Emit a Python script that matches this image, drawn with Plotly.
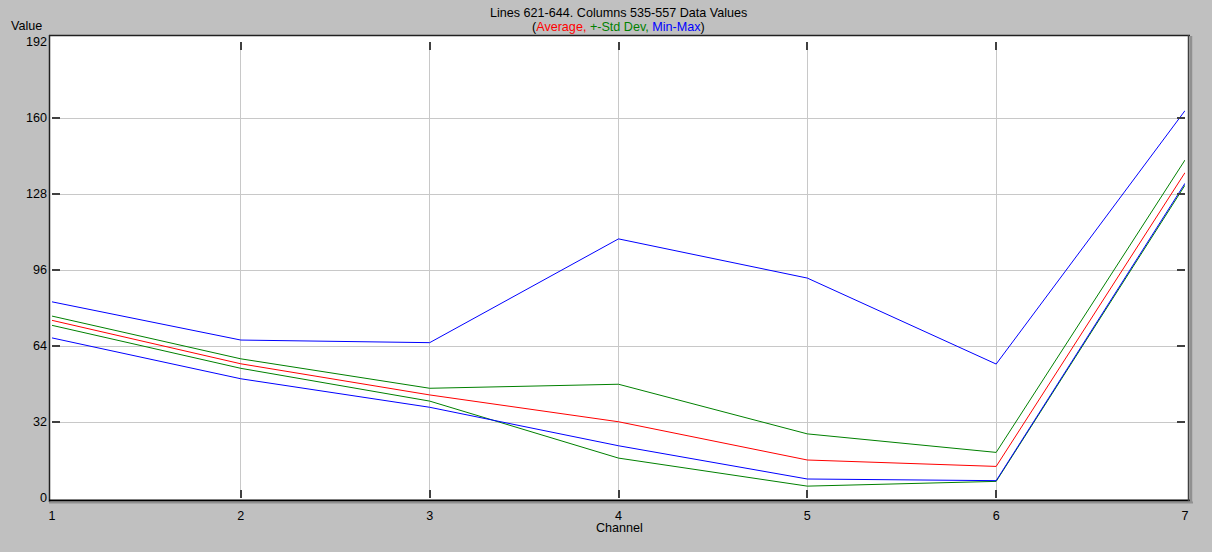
import plotly.graph_objects as go

channels = [1, 2, 3, 4, 5, 6, 7]
average = [74.8, 56.5, 43.4, 32.1, 16.0, 13.3, 137.0]
std_upper = [76.6, 58.6, 46.2, 47.9, 27.0, 19.2, 142.3]
std_lower = [72.7, 54.6, 40.8, 16.8, 5.0, 7.0, 131.7]
val_max = [82.6, 66.5, 65.4, 109.1, 92.6, 56.4, 163.1]
val_min = [67.4, 50.2, 38.2, 22.0, 8.0, 7.3, 132.5]
y_ticks = [0, 32, 64, 96, 128, 160, 192]

W, H = 1212, 552
L, R, T, B = 52, 27, 42, 54
pw, ph = W - L - R, H - T - B
FONT = "Liberation Sans, Arial, sans-serif"

def px(x):
    return (x - L) / pw

def py(y):
    return (H - B - y) / ph

fig = go.Figure()
fig.add_trace(go.Scatter(x=channels, y=average, mode="lines", line=dict(color="#ff0000", width=1), name="Average"))
fig.add_trace(go.Scatter(x=channels, y=std_upper, mode="lines", line=dict(color="#008000", width=1), name="+Std Dev"))
fig.add_trace(go.Scatter(x=channels, y=std_lower, mode="lines", line=dict(color="#008000", width=1), name="-Std Dev"))
fig.add_trace(go.Scatter(x=channels, y=val_max, mode="lines", line=dict(color="#0000ff", width=1), name="Max"))
fig.add_trace(go.Scatter(x=channels, y=val_min, mode="lines", line=dict(color="#0000ff", width=1), name="Min"))

shapes = [
    # white plot frame
    dict(type="rect", xref="paper", yref="paper", x0=px(49), x1=px(1189), y0=py(501), y1=py(35),
         fillcolor="white", line=dict(width=0), layer="below"),
    # top & left dark edges
    dict(type="line", xref="paper", yref="paper", x0=px(49), x1=px(1190), y0=py(35.5), y1=py(35.5),
         line=dict(color="#202020", width=1.5), layer="above"),
    dict(type="line", xref="paper", yref="paper", x0=px(49.5), x1=px(49.5), y0=py(35), y1=py(502),
         line=dict(color="#202020", width=1.5), layer="above"),
    # bottom & right edges
    dict(type="line", xref="paper", yref="paper", x0=px(49), x1=px(1191), y0=py(500.5), y1=py(500.5),
         line=dict(color="#000000", width=2), layer="above"),
    dict(type="line", xref="paper", yref="paper", x0=px(49), x1=px(1193), y0=py(502.5), y1=py(502.5),
         line=dict(color="#909090", width=2), layer="above"),
    dict(type="line", xref="paper", yref="paper", x0=px(1188.5), x1=px(1188.5), y0=py(35), y1=py(501),
         line=dict(color="#404040", width=1.5), layer="above"),
    dict(type="line", xref="paper", yref="paper", x0=px(1191), x1=px(1191), y0=py(36), y1=py(503),
         line=dict(color="#909090", width=2.5), layer="above"),
]

annotations = [
    dict(text="Lines 621-644. Columns 535-557 Data Values", xref="paper", yref="paper",
         x=px(618), y=py(13), showarrow=False, font=dict(size=12.6, color="#000000", family=FONT),
         xanchor="center", yanchor="middle"),
    dict(text="(<span style='color:#ff0000'>Average,</span> <span style='color:#008000'>+-Std Dev,</span> "
              "<span style='color:#0000ff'>Min-Max</span>)",
         xref="paper", yref="paper", x=px(618), y=py(27.5), showarrow=False,
         font=dict(size=12.6, color="#000000", family=FONT), xanchor="center", yanchor="middle"),
    dict(text="Value", xref="paper", yref="paper", x=px(9), y=py(26), showarrow=False,
         font=dict(size=12.6, color="#000000", family=FONT), xanchor="left", yanchor="middle"),
    dict(text="Channel", xref="paper", yref="paper", x=px(619), y=py(528), showarrow=False,
         font=dict(size=12.6, color="#000000", family=FONT), xanchor="center", yanchor="middle"),
]

fig.update_layout(
    width=W, height=H,
    margin=dict(l=L, r=R, t=T, b=B, pad=0),
    paper_bgcolor="#c0c0c0",
    plot_bgcolor="white",
    showlegend=False,
    shapes=shapes,
    annotations=annotations,
    font=dict(family=FONT, size=12.6, color="#000000"),
)
fig.update_xaxes(
    range=[1, 7], tickvals=channels, ticktext=[str(c) for c in channels],
    showgrid=True, gridcolor="#c8c8c8", gridwidth=1, zeroline=False,
    showline=False, ticks="inside", ticklen=8, tickwidth=2, tickcolor="#404040",
    mirror="ticks", ticklabelstandoff=8, tickfont=dict(size=12.6, family=FONT),
)
fig.update_yaxes(
    range=[0, 192], tickvals=y_ticks, ticktext=[str(v) for v in y_ticks],
    showgrid=True, gridcolor="#c8c8c8", gridwidth=1, zeroline=False,
    showline=False, ticks="inside", ticklen=8, tickwidth=2, tickcolor="#404040",
    mirror="ticks", ticklabelstandoff=4, tickfont=dict(size=12.6, family=FONT),
)

fig.write_html("out.html")
